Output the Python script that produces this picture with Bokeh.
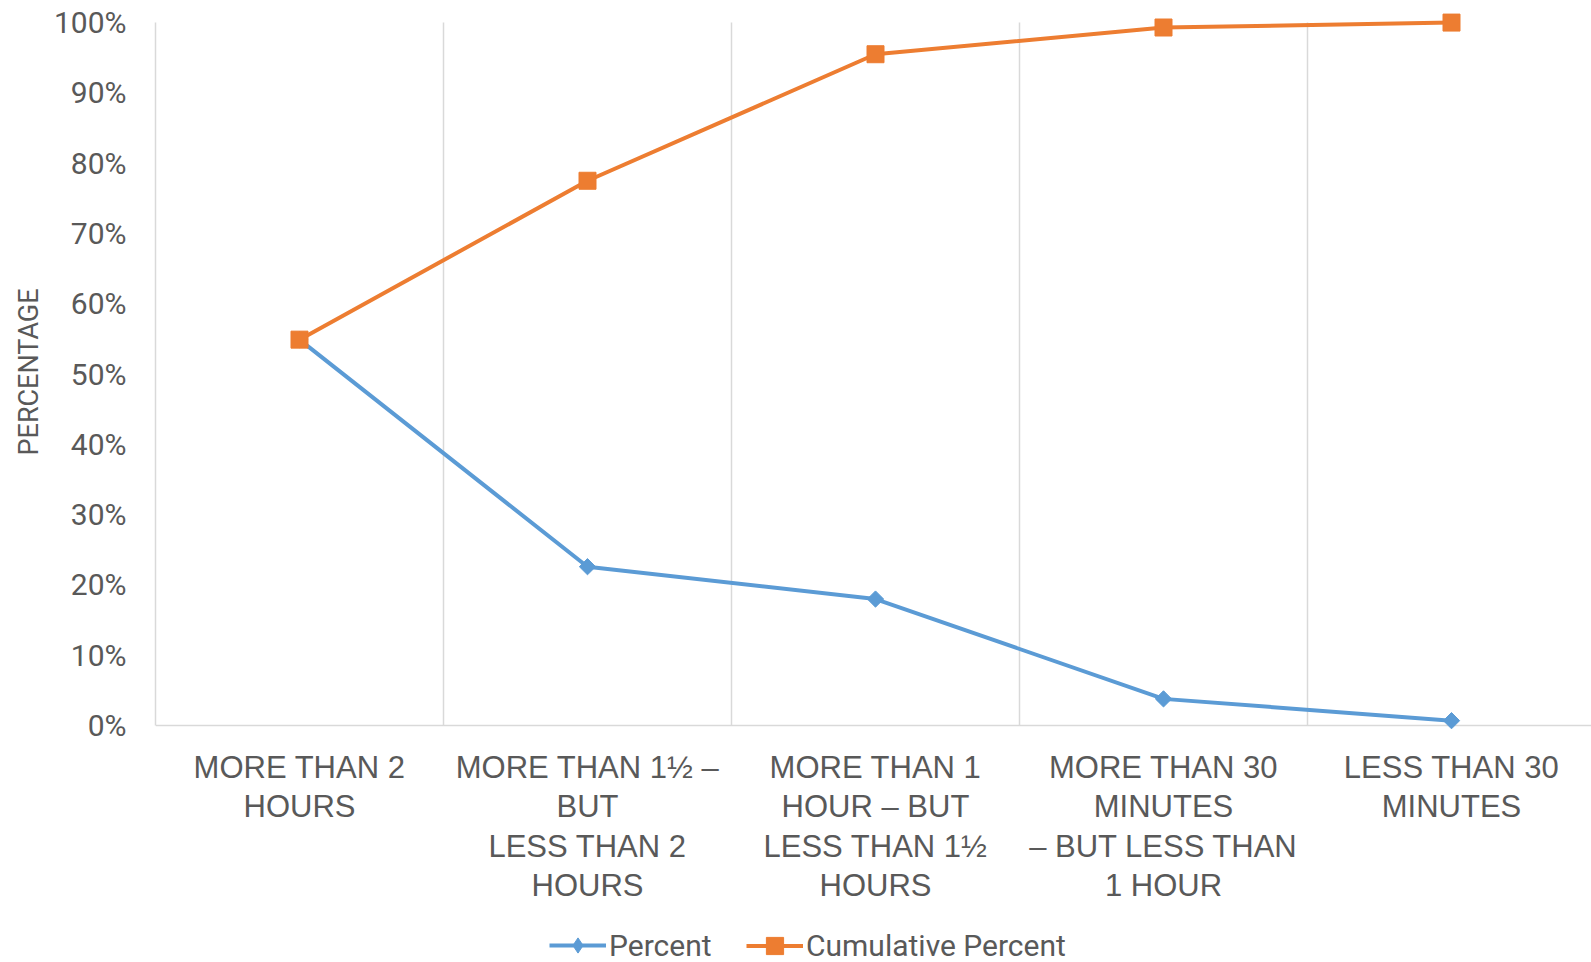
from bokeh.plotting import figure
from bokeh.models import (Range1d, FixedTicker, PrintfTickFormatter, Legend, LegendItem, Title)
from bokeh.core.properties import value
from bokeh.embed import file_html
from bokeh.resources import INLINE

# Time spent, share of respondents per category and running total
categories = [
    "MORE THAN 2\nHOURS",
    "MORE THAN 1\u00bd \u2013\nBUT\nLESS THAN 2\nHOURS",
    "MORE THAN 1\nHOUR \u2013 BUT\nLESS THAN 1\u00bd\nHOURS",
    "MORE THAN 30\nMINUTES\n\u2013 BUT LESS THAN\n1 HOUR",
    "LESS THAN 30\nMINUTES",
]
percent = [54.9, 22.6, 18.0, 3.8, 0.7]
cumulative_percent = [54.9, 77.5, 95.5, 99.3, 100.0]
y_ticks = [0, 10, 20, 30, 40, 50, 60, 70, 80, 90, 100]

BLUE = "#5B9BD5"
ORANGE = "#ED7D31"
TEXT = "#595959"
GRID = "#D9D9D9"
NUM_FONT = "Roboto"
CAT_FONT = "Liberation Sans"

n = len(categories)
x = [i + 0.5 for i in range(n)]
separators = list(range(1, n))

W, H = 1591, 962
LEFT = 155                 # space for the value axis
TOP = 1
PX_PER_PCT = 7.03          # vertical scale of the value axis
TOP_PAD = 3.0              # headroom so the 100% marker is not clipped
FRAME_W = W - LEFT
FRAME_H = H - TOP
band = 288.0               # pixel width of one category band
y_top = 100 + TOP_PAD
y_bottom = y_top - FRAME_H / PX_PER_PCT   # room below zero for labels and legend
x_end = FRAME_W / band
zero_px = FRAME_H - (0 - y_bottom) * PX_PER_PCT   # 0 % line, from frame top

p = figure(frame_width=FRAME_W, frame_height=FRAME_H,
           output_backend="svg", toolbar_location=None, x_axis_location=None,
           x_range=Range1d(0, x_end), y_range=Range1d(y_bottom, y_top),
           min_border_left=LEFT, min_border_right=0, min_border_top=TOP,
           min_border_bottom=0, outline_line_color=None)

# value axis, drawn only over 0-100 %
p.yaxis.bounds = (0, 100)
p.yaxis.ticker = FixedTicker(ticks=y_ticks)
p.yaxis.formatter = PrintfTickFormatter(format="%d%%")
p.yaxis.major_tick_line_color = None
p.yaxis.minor_tick_line_color = None
p.yaxis.axis_line_color = GRID
p.yaxis.axis_line_width = 1.5
p.yaxis.major_label_text_font = NUM_FONT
p.yaxis.major_label_text_font_size = "30px"
p.yaxis.major_label_text_color = TEXT
p.yaxis.major_label_standoff = 23

# axis title, centred on the 0-100 % span rather than the whole frame
title_len = 163
span_mid = TOP + zero_px / 2 + (TOP_PAD * PX_PER_PCT) / 2
p.add_layout(Title(text="PERCENTAGE", align="left",
                   offset=round(H - (span_mid + title_len / 2)),
                   text_font=NUM_FONT, text_font_size="27px",
                   text_font_style="normal", text_color=TEXT, standoff=11), "left")

p.xgrid.grid_line_color = None
p.ygrid.grid_line_color = None

# category baseline and separators between categories
p.segment(x0=[0], y0=[0], x1=[x_end], y1=[0], line_color=GRID, line_width=1.5)
p.segment(x0=separators, y0=[0] * len(separators), x1=separators,
          y1=[100] * len(separators), line_color=GRID, line_width=1.5)

# category labels under the baseline
p.text(x=x, y=[0] * n, text=categories, text_align="center", text_baseline="top",
       y_offset=24, text_font=value(CAT_FONT), text_font_size="31px",
       text_color=TEXT, text_line_height=1.13)

l1 = p.line(x, percent, line_color=BLUE, line_width=4)
# narrow diamond under each point, used as the legend swatch
# (legend glyphs are drawn unrotated, so the rotated square can't serve)
key_diamond = p.scatter(x, percent, marker="diamond", size=14,
                        fill_color=BLUE, line_color=BLUE)
m1 = p.scatter(x, percent, marker="square", angle=0.785398, size=11.5,
               fill_color=BLUE, line_color=BLUE)
l2 = p.line(x, cumulative_percent, line_color=ORANGE, line_width=4)
m2 = p.scatter(x, cumulative_percent, marker="square", size=17,
               fill_color=ORANGE, line_color=ORANGE)

legend_style = dict(orientation="horizontal", glyph_width=57, label_standoff=3,
                    padding=0, margin=0, border_line_color=None,
                    background_fill_alpha=0, label_text_font=NUM_FONT,
                    label_text_font_size="30px", label_text_color=TEXT)
# the two entries use different glyph heights so each marker keeps its size
legend_a = Legend(items=[LegendItem(label="Percent", renderers=[l1, key_diamond])],
                  location=(394, -2), glyph_height=38, **legend_style)
legend_b = Legend(items=[LegendItem(label="Cumulative Percent", renderers=[l2, m2])],
                  location=(591, -5), glyph_height=43, **legend_style)
p.add_layout(legend_a, "center")
p.add_layout(legend_b, "center")

open("out.html", "w").write(file_html(p, INLINE))
